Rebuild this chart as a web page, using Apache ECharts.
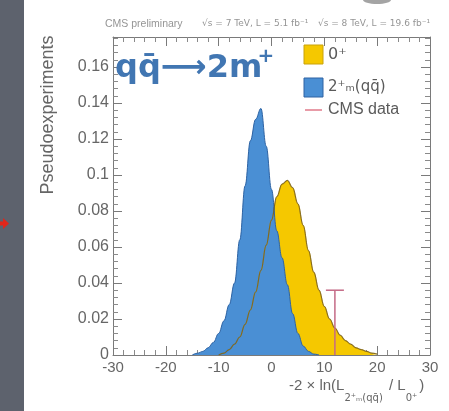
<!DOCTYPE html>
<html>
<head>
<meta charset="utf-8">
<script src="https://cdn.jsdelivr.net/npm/echarts@6/dist/echarts.min.js"></script>
<style>
  html, body { margin: 0; padding: 0; background: #ffffff; }
  #chart { width: 449px; height: 411px; }
</style>
</head>
<body>
<div id="chart"></div>
<script>
// Test statistic bins: -2 ln(L_2m / L_0)
const xs = [-15, -14, -13, -12, -11, -10, -9, -8, -7, -6, -5, -4, -3, -2, -1, 0, 1, 2, 3, 4,
            5, 6, 7, 8, 9, 10, 11, 12, 13, 14, 15, 16, 17, 18, 19, 20];

// Pseudoexperiment fractions for the 2+m(qq̄) hypothesis (blue)
const spin2Vals = [0, 0.001, 0.002, 0.004, 0.007, 0.012, 0.019, 0.028, 0.040, 0.064, 0.094, 0.119, 0.131, 0.137, 0.116,
                   0.092, 0.069, 0.054, 0.039, 0.023, 0.012, 0.005, 0.002, 0.0005, 0,
                   null, null, null, null, null, null, null, null, null, null, null];

// Pseudoexperiment fractions for the 0+ hypothesis (yellow)
const spin0Vals = [null, null, null, null, null, 0, 0.001, 0.003, 0.006, 0.010, 0.017, 0.025, 0.035, 0.047, 0.061,
                   0.075, 0.088, 0.095, 0.097, 0.093, 0.084, 0.072, 0.058, 0.046, 0.036, 0.027, 0.020, 0.015,
                   0.011, 0.008, 0.006, 0.004, 0.003, 0.002, 0.001, 0.0005];

// Observed value
const cmsObserved = 12.0;
const cmsMarkerHeight = 0.036;

// Axis ranges and ticks
const xMin = -30, xMax = 30, xStep = 10;
const yMin = 0, yMax = 0.1767, yStep = 0.02;

const spin2Data = xs.map((x, i) => [x, spin2Vals[i]]);
const spin0Data = xs.map((x, i) => [x, spin0Vals[i]]);

const chart = echarts.init(document.getElementById('chart'), null, { renderer: 'canvas' });

const frameColor = '#7a7a7a';
const labelColor = '#666666';
const titleBlue = '#4176b2';

function makeX(pos, showLabels) {
  return {
    type: 'value', min: xMin, max: xMax, interval: xStep, position: pos,
    axisLine: { show: true, onZero: false, lineStyle: { color: frameColor, width: 1 } },
    axisTick: { show: true, inside: true, length: 9, lineStyle: { color: frameColor } },
    minorTick: { show: true, splitNumber: 5, length: 5, lineStyle: { color: '#8a8a8a' } },
    axisLabel: { show: showLabels, fontSize: 15, color: labelColor, margin: 5,
                 fontFamily: 'Liberation Sans' },
    splitLine: { show: false }
  };
}

function makeY(pos, showLabels) {
  return {
    type: 'value', min: yMin, max: yMax, interval: yStep, position: pos,
    axisLine: { show: true, onZero: false, lineStyle: { color: frameColor, width: 1 } },
    axisTick: { show: true, inside: true, length: 9, lineStyle: { color: frameColor } },
    minorTick: { show: true, splitNumber: 5, length: 5, lineStyle: { color: '#8a8a8a' } },
    axisLabel: { show: showLabels, showMaxLabel: false, fontSize: 16, color: labelColor, margin: 4,
                 fontFamily: 'Liberation Sans',
                 formatter: v => String(+v.toFixed(3)) },
    splitLine: { show: false }
  };
}

// x-axis title laid out piece by piece (main text + subscripts)
const measureCtx = document.createElement('canvas').getContext('2d');
function textWidth(str, font) { measureCtx.font = font; return measureCtx.measureText(str).width; }

const mainFont = { size: 15, family: 'Liberation Sans' };
const subFont = { size: 10, family: 'DejaVu Sans' };
const xTitlePieces = [
  ['-2 \u00D7 ln(L', false],
  ['2\u207A\u2098(qq\u0304)', true],
  [' / L', false],
  ['0\u207A', true],
  [')', false]
];
const xTitleGraphics = [];
(function () {
  let cx = 289;
  const mainY = 386, subY = 398;
  xTitlePieces.forEach(([t, isSub]) => {
    const f = isSub ? subFont : mainFont;
    xTitleGraphics.push({
      type: 'text', x: cx, y: isSub ? subY : mainY,
      style: { text: t, fontSize: f.size, fontFamily: f.family, fill: '#666', verticalAlign: 'middle' }
    });
    cx += textWidth(t, f.size + 'px "' + f.family + '"') + (isSub ? 2 : 0);
  });
})();

const option = {
  backgroundColor: '#ffffff',
  animation: false,
  grid: { left: 113, right: 19, top: 37, bottom: 56 },
  xAxis: [makeX('bottom', true), makeX('top', false)],
  yAxis: [makeY('left', true), makeY('right', false)],
  series: [
    {
      name: '0+', type: 'line', data: spin0Data, smooth: 0.4, smoothMonotone: 'x',
      symbol: 'none', connectNulls: false,
      lineStyle: { color: '#c79a12', width: 1 },
      areaStyle: { color: '#f5c800', opacity: 1 }
    },
    {
      name: '2+m', type: 'line', data: spin2Data, smooth: 0.4, smoothMonotone: 'x',
      symbol: 'none', connectNulls: false,
      lineStyle: { color: '#2e63a3', width: 1 },
      areaStyle: { color: '#4a8fd4', opacity: 1 }
    },
    {
      name: '0+ outline', type: 'line', data: spin0Data, smooth: 0.4, smoothMonotone: 'x',
      symbol: 'none', connectNulls: false,
      lineStyle: { color: 'rgba(60,50,30,0.45)', width: 1.2 }
    },
    {
      name: 'CMS data', type: 'custom',
      data: [[cmsObserved, cmsMarkerHeight]],
      renderItem: function (params, api) {
        const base = api.coord([api.value(0), 0]);
        const top = api.coord([api.value(0), api.value(1)]);
        const style = { stroke: '#c46a86', lineWidth: 1.5 };
        return {
          type: 'group',
          children: [
            { type: 'line', shape: { x1: base[0], y1: base[1], x2: top[0], y2: top[1] }, style: style },
            { type: 'line', shape: { x1: top[0] - 9, y1: top[1], x2: top[0] + 9, y2: top[1] }, style: style }
          ]
        };
      },
      z: 5
    }
  ],
  graphic: [
    // slide background strip and pointer
    { type: 'rect', shape: { x: 0, y: 0, width: 24, height: 411 }, style: { fill: '#5d626d' }, z: 0 },
    { type: 'polygon', shape: { points: [[0, 221.5], [3, 221.5], [3, 218], [9, 223.5], [3, 229], [3, 225.5], [0, 225.5]] },
      style: { fill: '#e0261a' }, z: 1 },
    { type: 'ellipse', shape: { cx: 377, cy: 0, rx: 14, ry: 4 }, style: { fill: 'rgba(90,90,90,0.55)' } },

    // header line
    { type: 'text', x: 105, y: 24, style: { text: 'CMS preliminary', fontSize: 10.5, fill: '#959595',
      fontFamily: 'Liberation Sans', verticalAlign: 'middle' } },
    { type: 'text', x: 202, y: 24, style: { text: '\u221As = 7 TeV, L = 5.1 fb\u207B\u00B9',
      fontSize: 9, fill: '#959595', fontFamily: 'DejaVu Sans', verticalAlign: 'middle' } },
    { type: 'text', x: 430, y: 24, style: { text: '\u221As = 8 TeV, L = 19.6 fb\u207B\u00B9',
      fontSize: 9, fill: '#959595', fontFamily: 'DejaVu Sans', align: 'right', verticalAlign: 'middle' } },

    // process label
    { type: 'text', x: 115, y: 69, style: { text: 'qq\u0304\u27F62m', fontSize: 32, fontWeight: 'bold',
      fontFamily: 'DejaVu Sans', fill: titleBlue, verticalAlign: 'middle' }, z: 10 },
    { type: 'text', x: 266, y: 57, style: { text: '+', fontSize: 20, fontWeight: 'bold',
      fontFamily: 'DejaVu Sans', fill: titleBlue, align: 'center', verticalAlign: 'middle' }, z: 10 },

    // legend
    { type: 'rect', shape: { x: 304, y: 45, width: 19, height: 19 }, style: { fill: '#f5c800', stroke: '#c9a20a', lineWidth: 1 }, z: 10 },
    { type: 'text', x: 328, y: 55, style: { text: '0\u207A', fontSize: 16, fill: '#5a5a5a', fontFamily: 'DejaVu Sans', verticalAlign: 'middle' }, z: 10 },
    { type: 'rect', shape: { x: 304, y: 78, width: 19, height: 19 }, style: { fill: '#4a8fd4', stroke: '#2e63a3', lineWidth: 1 }, z: 10 },
    { type: 'text', x: 328, y: 87, style: { text: '2\u207A\u2098(qq\u0304)', fontSize: 15, fill: '#5a5a5a', fontFamily: 'DejaVu Sans', verticalAlign: 'middle' }, z: 10 },
    { type: 'line', shape: { x1: 305, y1: 110, x2: 322, y2: 110 }, style: { stroke: '#e07a8a', lineWidth: 1.5 }, z: 10 },
    { type: 'text', x: 328, y: 110, style: { text: 'CMS data', fontSize: 16, fill: '#5a5a5a', fontFamily: 'Liberation Sans', verticalAlign: 'middle' }, z: 10 },

    // y-axis title
    { type: 'text', x: 48, y: 115, rotation: Math.PI / 2,
      style: { text: 'Pseudoexperiments', fontSize: 18, fill: '#666', fontFamily: 'Liberation Sans',
               align: 'center', verticalAlign: 'middle' } }
  ].concat(xTitleGraphics)
};

chart.setOption(option);
</script>
</body>
</html>
